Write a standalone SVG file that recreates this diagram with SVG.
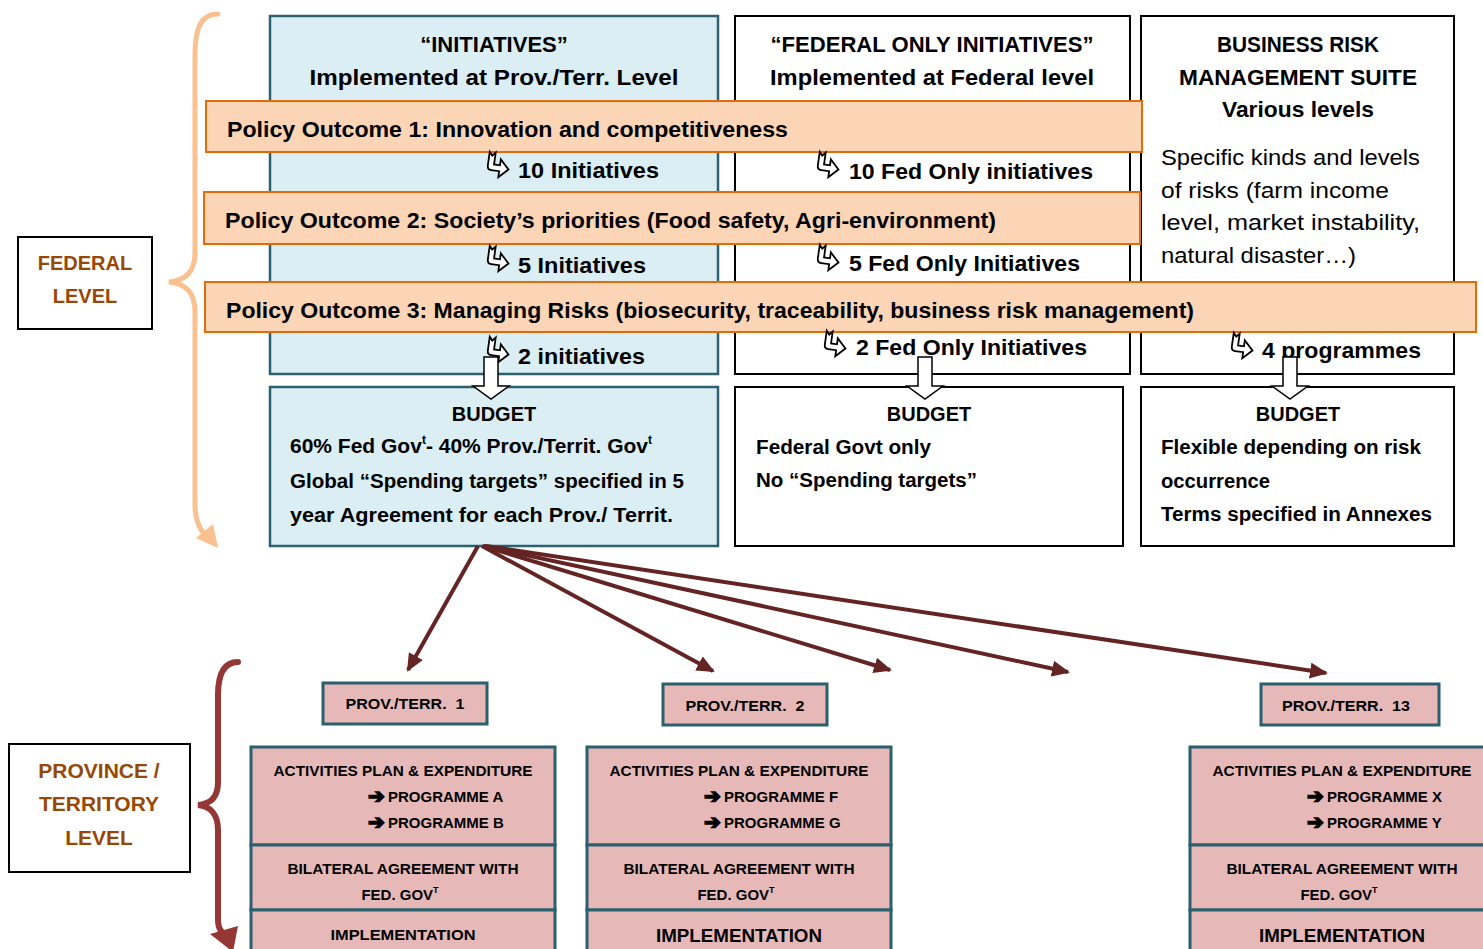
<svg xmlns="http://www.w3.org/2000/svg" width="1483" height="949" viewBox="0 0 1483 949">
<style>
text{font-family:"Liberation Sans",Arial,sans-serif;fill:#000}
.b{font-weight:bold}
.h{font-size:22px;font-weight:bold}
.r{font-size:22px}
.bd{font-size:20px;font-weight:bold}
.sm{font-size:15px;font-weight:bold}
.lv{font-size:20px;font-weight:bold;fill:#984806}
.c{text-anchor:middle}
.pre{white-space:pre}
.blue{fill:#DAEEF3;stroke:#2E6170;stroke-width:2.5}
.wh{fill:#fff;stroke:#000;stroke-width:2}
.bar{fill:#FBD5B5;stroke:#E36C09;stroke-width:2}
.pk{fill:#E6B9B8;stroke:#2A5F6E;stroke-width:3}
.hook{fill:#fff;stroke:#000;stroke-width:1.8;stroke-linejoin:miter}
.blk{fill:#fff;stroke:#000;stroke-width:1.5}
.con{stroke:#632423;stroke-width:4;fill:none}
.ar{font-family:"DejaVu Sans",sans-serif;font-size:20px;font-weight:bold;stroke:#000;stroke-width:1.6}
</style>
<defs>
<marker id="ah" markerUnits="userSpaceOnUse" markerWidth="18" markerHeight="16" refX="16" refY="8" orient="auto">
<path d="M0,0 L18,8 L0,16 z" fill="#632423"/>
</marker>
<path id="hk" d="M2,0 L5,3.5 L8,0 L8,12 L14,12 L14,6 L23,15 L14,24 L14,18 L6,18 Q2,18 2,14 Z"/>
</defs>

<!-- braces -->
<g id="brace-federal">
<path d="M218,14 C200,14 195,30 195,55 L195,252 C195,272 186,280 169,282 C186,284 195,292 195,312 L195,505 C195,522 200,530 206,536" fill="none" stroke="#FAC08F" stroke-width="5" stroke-linecap="round"/>
<path d="M196,538 L213,524 L218,548 Z" fill="#FAC08F"/>
</g>
<g id="brace-province">
<path d="M238,662 C223,662 218,675 218,695 L218,782 C218,798 210,804 198,805 C210,806 218,814 218,830 L218,920 C218,926 220,930 222,932" fill="none" stroke="#953735" stroke-width="6" stroke-linecap="round"/>
<path d="M210,934 L238,926 L233,952 Z" fill="#953735"/>
</g>

<!-- level boxes -->
<g id="federal-level">
<rect x="18" y="237" width="134" height="92" class="wh"/>
<text x="85" y="270" class="lv c">FEDERAL</text>
<text x="85" y="303" class="lv c">LEVEL</text>
</g>
<g id="province-level">
<rect x="9" y="744" width="181" height="128" class="wh"/>
<text x="99" y="778" class="lv c" style="font-size:21px">PROVINCE /</text>
<text x="99" y="811" class="lv c" style="font-size:21px">TERRITORY</text>
<text x="99" y="845" class="lv c" style="font-size:21px">LEVEL</text>
</g>

<!-- top boxes -->
<g id="initiatives">
<rect x="270" y="16" width="448" height="358" class="blue"/>
<text x="494" y="52" class="h c">“INITIATIVES”</text>
<text x="494" y="85" class="h c" textLength="369" lengthAdjust="spacingAndGlyphs">Implemented at Prov./Terr. Level</text>
</g>
<g id="federal-only">
<rect x="735" y="16" width="395" height="358" class="wh"/>
<text x="932" y="52" class="h c" textLength="323" lengthAdjust="spacingAndGlyphs">“FEDERAL ONLY INITIATIVES”</text>
<text x="932" y="85" class="h c" textLength="324" lengthAdjust="spacingAndGlyphs">Implemented at Federal level</text>
</g>
<g id="brm-suite">
<rect x="1141" y="16" width="313" height="358" class="wh"/>
<text x="1298" y="52" class="h c" textLength="162" lengthAdjust="spacingAndGlyphs">BUSINESS RISK</text>
<text x="1298" y="85" class="h c" textLength="238" lengthAdjust="spacingAndGlyphs">MANAGEMENT SUITE</text>
<text x="1298" y="117" class="h c" textLength="152" lengthAdjust="spacingAndGlyphs">Various levels</text>
<text x="1161" y="165" class="r" textLength="259" lengthAdjust="spacingAndGlyphs">Specific kinds and levels</text>
<text x="1161" y="198" class="r" textLength="228" lengthAdjust="spacingAndGlyphs">of risks (farm income</text>
<text x="1161" y="230" class="r" textLength="259" lengthAdjust="spacingAndGlyphs">level, market instability,</text>
<text x="1161" y="263" class="r" textLength="195" lengthAdjust="spacingAndGlyphs">natural disaster…)</text>
</g>

<!-- policy bars -->
<g id="policy-1">
<rect x="206" y="101" width="936" height="51" class="bar"/>
<text x="227" y="137" class="h" textLength="561" lengthAdjust="spacingAndGlyphs">Policy Outcome 1: Innovation and competitiveness</text>
</g>
<g id="policy-2">
<rect x="204" y="192" width="936" height="52" class="bar"/>
<text x="225" y="228" class="h" textLength="771" lengthAdjust="spacingAndGlyphs">Policy Outcome 2: Society’s priorities (Food safety, Agri-environment)</text>
</g>
<g id="policy-3">
<rect x="205" y="282" width="1271" height="50" class="bar"/>
<text x="226" y="318" class="h" textLength="968" lengthAdjust="spacingAndGlyphs">Policy Outcome 3: Managing Risks (biosecurity, traceability, business risk management)</text>
</g>

<!-- counts -->
<g id="counts">
<use href="#hk" class="hook" transform="translate(486,153) rotate(8 12 12)"/>
<text x="518" y="178" class="h" textLength="141" lengthAdjust="spacingAndGlyphs">10 Initiatives</text>
<use href="#hk" class="hook" transform="translate(486,247) rotate(8 12 12)"/>
<text x="518" y="273" class="h" textLength="128" lengthAdjust="spacingAndGlyphs">5 Initiatives</text>
<use href="#hk" class="hook" transform="translate(486,338) rotate(8 12 12)"/>
<text x="518" y="364" class="h" textLength="127" lengthAdjust="spacingAndGlyphs">2 initiatives</text>
<use href="#hk" class="hook" transform="translate(816,153) rotate(8 12 12)"/>
<text x="849" y="179" class="h" textLength="244" lengthAdjust="spacingAndGlyphs">10 Fed Only initiatives</text>
<use href="#hk" class="hook" transform="translate(816,246) rotate(8 12 12)"/>
<text x="849" y="271" class="h" textLength="231" lengthAdjust="spacingAndGlyphs">5 Fed Only Initiatives</text>
<use href="#hk" class="hook" transform="translate(823,332) rotate(8 12 12)"/>
<text x="856" y="355" class="h" textLength="231" lengthAdjust="spacingAndGlyphs">2 Fed Only Initiatives</text>
<use href="#hk" class="hook" transform="translate(1230,334) rotate(8 12 12)"/>
<text x="1262" y="358" class="h" textLength="159" lengthAdjust="spacingAndGlyphs">4 programmes</text>
</g>

<!-- budget boxes -->
<g id="budget-1">
<rect x="270" y="387" width="448" height="159" class="blue"/>
<text x="494" y="421" class="bd c">BUDGET</text>
<text x="290" y="453" class="bd" style="font-size:21px">60% Fed Gov<tspan dy="-9" style="font-size:12px">t</tspan><tspan dy="9">- 40% Prov./Territ. Gov</tspan><tspan dy="-9" style="font-size:12px">t</tspan></text>
<text x="290" y="488" class="bd" textLength="394" lengthAdjust="spacingAndGlyphs">Global “Spending targets” specified in 5</text>
<text x="290" y="522" class="bd" textLength="383" lengthAdjust="spacingAndGlyphs">year Agreement for each Prov./ Territ.</text>
</g>
<g id="budget-2">
<rect x="735" y="387" width="388" height="159" class="wh"/>
<text x="929" y="421" class="bd c">BUDGET</text>
<text x="756" y="454" class="bd" textLength="175" lengthAdjust="spacingAndGlyphs">Federal Govt only</text>
<text x="756" y="487" class="bd" textLength="221" lengthAdjust="spacingAndGlyphs">No “Spending targets”</text>
</g>
<g id="budget-3">
<rect x="1141" y="387" width="313" height="159" class="wh"/>
<text x="1298" y="421" class="bd c">BUDGET</text>
<text x="1161" y="454" class="bd" textLength="260" lengthAdjust="spacingAndGlyphs">Flexible depending on risk</text>
<text x="1161" y="488" class="bd" textLength="109" lengthAdjust="spacingAndGlyphs">occurrence</text>
<text x="1161" y="521" class="bd" textLength="271" lengthAdjust="spacingAndGlyphs">Terms specified in Annexes</text>
</g>

<!-- block arrows -->
<g id="block-arrows">
<path d="M484,357 L498,357 L498,386 L509,386 L491,399 L473,386 L484,386 Z" class="blk"/>
<path d="M918,357 L932,357 L932,386 L943,386 L925,399 L907,386 L918,386 Z" class="blk"/>
<path d="M1283,357 L1297,357 L1297,386 L1308,386 L1290,399 L1272,386 L1283,386 Z" class="blk"/>
</g>

<!-- connectors -->
<g id="connectors">
<line x1="478" y1="546" x2="408" y2="670" class="con" marker-end="url(#ah)"/>
<line x1="482" y1="546" x2="713" y2="671" class="con" marker-end="url(#ah)"/>
<line x1="483" y1="546" x2="890" y2="670" class="con" marker-end="url(#ah)"/>
<line x1="484" y1="546" x2="1068" y2="672" class="con" marker-end="url(#ah)"/>
<line x1="486" y1="546" x2="1326" y2="673" class="con" marker-end="url(#ah)"/>
</g>

<!-- provinces -->
<g id="prov-1">
<rect x="323" y="683" width="164" height="41" class="pk"/>
<text x="405" y="709" class="sm c pre" textLength="119" lengthAdjust="spacingAndGlyphs">PROV./TERR.  1</text>
</g>
<g id="prov-2">
<rect x="663" y="684" width="164" height="41" class="pk"/>
<text x="745" y="711" class="sm c pre" textLength="119" lengthAdjust="spacingAndGlyphs">PROV./TERR.  2</text>
</g>
<g id="prov-13">
<rect x="1261" y="684" width="178" height="41" class="pk"/>
<text x="1346" y="711" class="sm c pre" textLength="128" lengthAdjust="spacingAndGlyphs">PROV./TERR.  13</text>
</g>

<g id="plan-1">
<rect x="251" y="747" width="304" height="98" class="pk"/>
<text x="403" y="776" class="sm c" textLength="259" lengthAdjust="spacingAndGlyphs">ACTIVITIES PLAN &amp; EXPENDITURE</text>
<text x="368" y="803" class="sm"><tspan class="ar">➔</tspan><tspan x="388" y="802">PROGRAMME A</tspan></text>
<text x="368" y="829" class="sm"><tspan class="ar">➔</tspan><tspan x="388" y="828">PROGRAMME B</tspan></text>
<rect x="251" y="845" width="304" height="65" class="pk"/>
<text x="403" y="874" class="sm c" textLength="231" lengthAdjust="spacingAndGlyphs">BILATERAL AGREEMENT WITH</text>
<text x="400" y="900" class="sm c">FED. GOV<tspan dy="-7" style="font-size:9px">T</tspan></text>
<rect x="251" y="910" width="304" height="50" class="pk"/>
<text x="403" y="940" class="sm c" textLength="145" lengthAdjust="spacingAndGlyphs">IMPLEMENTATION</text>
</g>
<g id="plan-2">
<rect x="587" y="747" width="304" height="98" class="pk"/>
<text x="739" y="776" class="sm c" textLength="259" lengthAdjust="spacingAndGlyphs">ACTIVITIES PLAN &amp; EXPENDITURE</text>
<text x="704" y="803" class="sm"><tspan class="ar">➔</tspan><tspan x="724" y="802">PROGRAMME F</tspan></text>
<text x="704" y="829" class="sm"><tspan class="ar">➔</tspan><tspan x="724" y="828">PROGRAMME G</tspan></text>
<rect x="587" y="845" width="304" height="65" class="pk"/>
<text x="739" y="874" class="sm c" textLength="231" lengthAdjust="spacingAndGlyphs">BILATERAL AGREEMENT WITH</text>
<text x="736" y="900" class="sm c">FED. GOV<tspan dy="-7" style="font-size:9px">T</tspan></text>
<rect x="587" y="910" width="304" height="50" class="pk"/>
<text x="739" y="942" class="c" style="font-size:19px;font-weight:bold" textLength="166" lengthAdjust="spacingAndGlyphs">IMPLEMENTATION</text>
</g>
<g id="plan-13">
<rect x="1190" y="747" width="304" height="98" class="pk"/>
<text x="1342" y="776" class="sm c" textLength="259" lengthAdjust="spacingAndGlyphs">ACTIVITIES PLAN &amp; EXPENDITURE</text>
<text x="1307" y="803" class="sm"><tspan class="ar">➔</tspan><tspan x="1327" y="802">PROGRAMME X</tspan></text>
<text x="1307" y="829" class="sm"><tspan class="ar">➔</tspan><tspan x="1327" y="828">PROGRAMME Y</tspan></text>
<rect x="1190" y="845" width="304" height="65" class="pk"/>
<text x="1342" y="874" class="sm c" textLength="231" lengthAdjust="spacingAndGlyphs">BILATERAL AGREEMENT WITH</text>
<text x="1339" y="900" class="sm c">FED. GOV<tspan dy="-7" style="font-size:9px">T</tspan></text>
<rect x="1190" y="910" width="304" height="50" class="pk"/>
<text x="1342" y="942" class="c" style="font-size:19px;font-weight:bold" textLength="166" lengthAdjust="spacingAndGlyphs">IMPLEMENTATION</text>
</g>
</svg>
